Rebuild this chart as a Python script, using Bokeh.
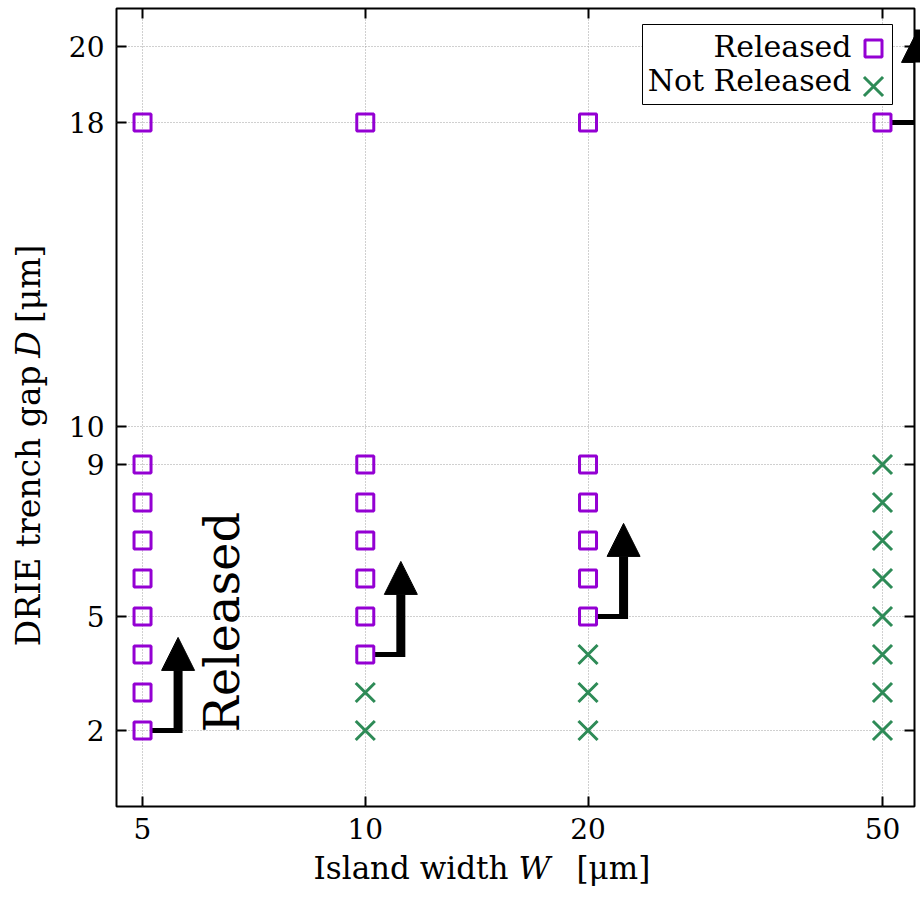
import math
from bokeh.plotting import figure
from bokeh.layouts import column, row
from bokeh.models import (ColumnDataSource, FixedTicker, LogAxis, LinearAxis, Range1d,
                          Label, BoxAnnotation, Arrow, NormalHead, PrintfTickFormatter)
from bokeh.embed import file_html
from bokeh.resources import INLINE

# ---------------- data ----------------
x_ticks = [5, 10, 20, 50]
y_ticks = [2, 5, 9, 10, 18, 20]

released_W = [5, 5, 5, 5, 5, 5, 5, 5, 5,
              10, 10, 10, 10, 10, 10, 10,
              20, 20, 20, 20, 20, 20,
              50]
released_D = [2, 3, 4, 5, 6, 7, 8, 9, 18,
              4, 5, 6, 7, 8, 9, 18,
              5, 6, 7, 8, 9, 18,
              18]
not_W = [10, 10,
         20, 20, 20,
         50, 50, 50, 50, 50, 50, 50, 50]
not_D = [2, 3,
         2, 3, 4,
         2, 3, 4, 5, 6, 7, 8, 9]

# smallest released gap for each width (start of the arrows)
thr_W = [5, 10, 20, 50]
thr_D = [2, 4, 5, 18]

# ---------------- style / layout constants ----------------
FONT = "DejaVu Serif"
PURPLE = "#9400D3"
GREEN = "#2E8B57"
X_MIN, X_MAX = 4.611, 55.24
Y_MIN, Y_MAX = 0, 21
ARROW_DX = 1.117
SEG_START = 1.03
ARROW_LEN = 2.45
BASE_DROP = 0.066

TOTAL_W, TOTAL_H = 920, 899
LEFT_W = 58          # strip holding the y title
MAIN_H = 850         # main figure height; strip below holds the x title
BOT_H = TOTAL_H - MAIN_H

# ---------------- main figure ----------------
p = figure(width=TOTAL_W - LEFT_W, height=MAIN_H, x_axis_type="log",
           x_range=Range1d(X_MIN, X_MAX), y_range=Range1d(Y_MIN, Y_MAX),
           output_backend="svg", toolbar_location=None,
           min_border_left=58, min_border_right=6,
           min_border_top=8, min_border_bottom=MAIN_H - 806)
p.background_fill_color = "white"
p.border_fill_color = "white"
p.outline_line_color = "black"
p.outline_line_width = 2

xt = FixedTicker(ticks=x_ticks)
yt = FixedTicker(ticks=y_ticks)
p.xaxis.ticker = xt
p.yaxis.ticker = yt
p.xaxis.formatter = PrintfTickFormatter(format="%d")
p.yaxis.formatter = PrintfTickFormatter(format="%d")
for ax in (p.xaxis[0], p.yaxis[0]):
    ax.axis_line_color = None
    ax.major_tick_in = 10
    ax.major_tick_out = 0
    ax.major_tick_line_width = 2
    ax.major_tick_line_color = "black"
    ax.minor_tick_line_color = None
    ax.major_label_text_font = FONT
    ax.major_label_text_font_size = "28px"
    ax.major_label_text_color = "black"
p.xaxis.major_label_standoff = 11
p.yaxis.major_label_standoff = 12

top = LogAxis(ticker=FixedTicker(ticks=x_ticks), formatter=PrintfTickFormatter(format=""))
right = LinearAxis(ticker=FixedTicker(ticks=y_ticks), formatter=PrintfTickFormatter(format=""))
for ax in (top, right):
    ax.axis_line_color = None
    ax.major_tick_in = 10
    ax.major_tick_out = 0
    ax.major_tick_line_width = 2
    ax.major_tick_line_color = "black"
    ax.minor_tick_line_color = None
    ax.major_label_text_font_size = "0px"
    ax.major_label_standoff = 0
p.add_layout(top, "above")
p.add_layout(right, "right")

p.xgrid.ticker = xt
p.ygrid.ticker = yt
p.grid.grid_line_color = "#a0a0a0"
p.grid.grid_line_dash = "1 2"
p.grid.grid_line_width = 1
p.grid.level = "image"

# arrows from the first released point of each column
asrc = ColumnDataSource(dict(
    x0=[w * SEG_START for w in thr_W],
    x1=[w * ARROW_DX for w in thr_W],
    y=thr_D,
    yb=[d - BASE_DROP for d in thr_D],
    yt=[d + ARROW_LEN for d in thr_D],
))
p.segment(x0="x0", y0="y", x1="x1", y1="y", source=asrc,
          line_width=5, line_color="black", line_cap="butt")
p.add_layout(Arrow(end=NormalHead(size=33, fill_color="black", line_color="black"),
                   x_start="x1", y_start="yb", x_end="x1", y_end="yt",
                   line_width=9, line_color="black", source=asrc))

# markers
p.scatter(released_W, released_D, marker="square", size=17,
          fill_color=None, line_color=PURPLE, line_width=3)
p.scatter(not_W, not_D, marker="x", size=27,
          line_color=GREEN, line_width=3)

# big rotated "Released"
p.add_layout(Label(x=105, y=74, x_units="screen", y_units="screen",
                   text="Released", angle=math.pi / 2,
                   text_font=FONT, text_font_size="48px", text_color="black",
                   text_align="left", text_baseline="alphabetic"))

# legend, gnuplot style (text right-aligned, symbol on the right)
p.add_layout(BoxAnnotation(left=526, right=776, bottom=702, top=782,
                           left_units="screen", right_units="screen",
                           bottom_units="screen", top_units="screen",
                           fill_color="white", fill_alpha=1.0,
                           line_color="black", line_width=1, line_alpha=1.0,
                           level="underlay"))
FRAME_W, FRAME_H = 798, 798
def px_to_x(px):
    lo, hi = math.log10(X_MIN), math.log10(X_MAX)
    return 10 ** (lo + px / FRAME_W * (hi - lo))
def px_to_y(py):
    return Y_MIN + py / FRAME_H * (Y_MAX - Y_MIN)
leg_x = px_to_x(757)
p.scatter([leg_x], [px_to_y(758)], marker="square", size=17,
          fill_color=None, line_color=PURPLE, line_width=3)
p.scatter([leg_x], [px_to_y(720)], marker="x", size=27,
          line_color=GREEN, line_width=3)
for s, yy in (("Released", 760), ("Not Released", 726)):
    p.add_layout(Label(x=735, y=yy, x_units="screen", y_units="screen", text=s,
                       text_font=FONT, text_font_size="30px", text_color="black",
                       text_align="right", text_baseline="alphabetic"))

# ---------------- strips for the axis titles ----------------
def strip(w, h):
    f = figure(width=w, height=h, x_range=Range1d(0, w), y_range=Range1d(0, h),
               output_backend="svg", toolbar_location=None,
               x_axis_location=None, y_axis_location=None, min_border=0)
    f.outline_line_color = None
    f.background_fill_color = "white"
    f.border_fill_color = "white"
    f.grid.visible = False
    return f

def txt(f, s, x, y, align, italic=False, angle=0.0, size="31px"):
    f.add_layout(Label(x=x, y=y, text=s, angle=angle,
                       text_font=FONT, text_font_size=size,
                       text_font_style="italic" if italic else "normal",
                       text_color="black", text_align=align,
                       text_baseline="alphabetic"))

# x title
bot = strip(TOTAL_W, BOT_H)
XT_Y = BOT_H - (867 - MAIN_H)
txt(bot, "Island width", 508, XT_Y, "right")
txt(bot, "W", 518, XT_Y, "left", italic=True)
txt(bot, "[μm]", 576, XT_Y, "left")

# y title
left = strip(LEFT_W, MAIN_H)
YT_X = 28
txt(left, "DRIE trench gap", YT_X, MAIN_H - 380, "right", angle=math.pi / 2, size="33px")
txt(left, "D", YT_X, MAIN_H - 372, "left", italic=True, angle=math.pi / 2, size="33px")
txt(left, "[μm]", YT_X, MAIN_H - 335, "left", angle=math.pi / 2, size="33px")

layout = column(row(left, p), bot)
open("out.html", "w").write(file_html(layout, INLINE))
